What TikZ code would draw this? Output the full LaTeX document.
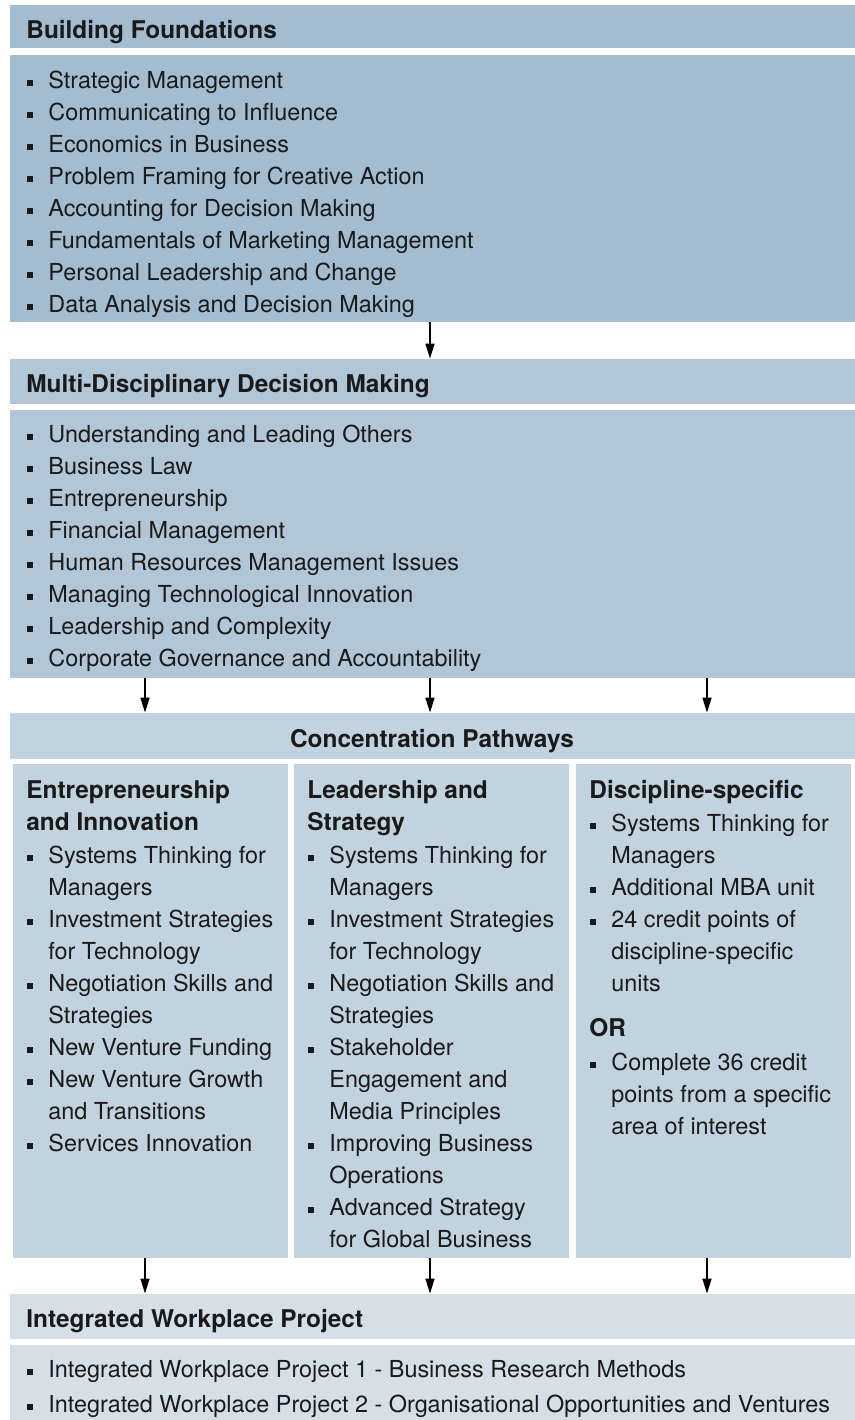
\documentclass[tikz,border=0pt]{standalone}
\usepackage{fontspec}
\setmainfont{TeX Gyre Heros}
\usetikzlibrary{fit,arrows.meta}
\definecolor{bfc}{HTML}{A3BCCF}
\definecolor{mdc}{HTML}{B1C6D6}
\definecolor{cpc}{HTML}{C2D3E0}
\definecolor{iwc}{HTML}{D4DFE8}
\definecolor{txt}{HTML}{1A1A1A}
\newcommand\bul{\llap{\rule[1pt]{3pt}{3pt}\hspace{7.5pt}}}
\tikzset{
  panel/.style={inner sep=0pt, draw=none},
  hd/.style={anchor=base west, inner sep=0pt, text=txt, font=\fontsize{12.2}{16}\selectfont\bfseries},
  it/.style={anchor=base west, inner sep=0pt, text=txt, font=\fontsize{11.7}{16}\selectfont},
  arr/.style={-{Triangle[width=4.5pt,length=7.5pt]}, line width=0.75pt, draw=black},
}
\begin{document}
\begin{tikzpicture}[x=0.5pt,y=-0.5pt]
\useasboundingbox (0,0) rectangle (855,1420);
% panels
\node[panel, fill=bfc, fit={(10,5) (855,48)}] (bfh) {};
\node[panel, fill=bfc, fit={(10,55) (855,322)}] (bfb) {};
\node[panel, fill=mdc, fit={(10,359) (855,404)}] (mdh) {};
\node[panel, fill=mdc, fit={(10,410) (855,678)}] (mdb) {};
\node[panel, fill=cpc, fit={(10,713) (855,759)}] (cph) {};
\node[panel, fill=cpc, fit={(13,764) (288,1258)}] (c1) {};
\node[panel, fill=cpc, fit={(294,764) (569,1258)}] (c2) {};
\node[panel, fill=cpc, fit={(576,764) (851,1258)}] (c3) {};
\node[panel, fill=iwc, fit={(10,1294) (855,1339)}] (iwh) {};
\node[panel, fill=iwc, fit={(10,1345) (855,1420)}] (iwb) {};
% headers
\node[hd] (bft) at (26,38) {Building Foundations};
\node[hd] (mdt) at (26,392) {Multi-Disciplinary Decision Making};
\node[hd, anchor=base] (cpt) at (432,747) {Concentration Pathways};
\node[hd] (iwt) at (26,1327) {Integrated Workplace Project};
% building foundations
\foreach \t [count=\i] in {Strategic Management, Communicating to Influence, Economics in Business, Problem Framing for Creative Action, Accounting for Decision Making, Fundamentals of Marketing Management, Personal Leadership and Change, Data Analysis and Decision Making}
  \node[it] (bf\i) at (48,{88+32*(\i-1)}) {\bul\t};
% multi-disciplinary
\foreach \t [count=\i] in {Understanding and Leading Others, Business Law, Entrepreneurship, Financial Management, Human Resources Management Issues, Managing Technological Innovation, Leadership and Complexity, Corporate Governance and Accountability}
  \node[it] (md\i) at (48,{442+32*(\i-1)}) {\bul\t};
% column 1
\node[hd] (c1h1) at (26,798) {Entrepreneurship};
\node[hd] (c1h2) at (26,830) {and Innovation};
\node[it] (c1a) at (48,863) {\bul Systems Thinking for};
\node[it] (c1b) at (48,895) {Managers};
\node[it] (c1c) at (48,927) {\bul Investment Strategies};
\node[it] (c1d) at (48,959) {for Technology};
\node[it] (c1e) at (48,991) {\bul Negotiation Skills and};
\node[it] (c1f) at (48,1023) {Strategies};
\node[it] (c1g) at (48,1055) {\bul New Venture Funding};
\node[it] (c1h) at (48,1087) {\bul New Venture Growth};
\node[it] (c1i) at (48,1119) {and Transitions};
\node[it] (c1j) at (48,1151) {\bul Services Innovation};
% column 2
\node[hd] (c2h1) at (307,798) {Leadership and};
\node[hd] (c2h2) at (307,830) {Strategy};
\node[it] (c2a) at (329,863) {\bul Systems Thinking for};
\node[it] (c2b) at (329,895) {Managers};
\node[it] (c2c) at (329,927) {\bul Investment Strategies};
\node[it] (c2d) at (329,959) {for Technology};
\node[it] (c2e) at (329,991) {\bul Negotiation Skills and};
\node[it] (c2f) at (329,1023) {Strategies};
\node[it] (c2g) at (329,1055) {\bul Stakeholder};
\node[it] (c2h) at (329,1087) {Engagement and};
\node[it] (c2i) at (329,1119) {Media Principles};
\node[it] (c2j) at (329,1151) {\bul Improving Business};
\node[it] (c2k) at (329,1183) {Operations};
\node[it] (c2l) at (329,1215) {\bul Advanced Strategy};
\node[it] (c2m) at (329,1247) {for Global Business};
% column 3
\node[hd] (c3h1) at (589,798) {Discipline-specific};
\node[it] (c3a) at (611,831) {\bul Systems Thinking for};
\node[it] (c3b) at (611,863) {Managers};
\node[it] (c3c) at (611,895) {\bul Additional MBA unit};
\node[it] (c3d) at (611,927) {\bul 24 credit points of};
\node[it] (c3e) at (611,959) {discipline-specific};
\node[it] (c3f) at (611,991) {units};
\node[hd] (c3or) at (589,1036) {OR};
\node[it] (c3g) at (611,1070) {\bul Complete 36 credit};
\node[it] (c3h) at (611,1102) {points from a specific};
\node[it] (c3i) at (611,1134) {area of interest};
% integrated workplace project
\node[it] (iw1) at (48,1377) {\bul Integrated Workplace Project 1 - Business Research Methods};
\node[it] (iw2) at (48,1412) {\bul Integrated Workplace Project 2 - Organisational Opportunities and Ventures};
% arrows
\coordinate (xa) at (145,0);
\coordinate (xb) at (430,0);
\coordinate (xc) at (707,0);
\draw[arr] (bfb.south -| xb) -- (mdh.north -| xb);
\draw[arr] (mdb.south -| xa) -- (cph.north -| xa);
\draw[arr] (mdb.south -| xb) -- (cph.north -| xb);
\draw[arr] (mdb.south -| xc) -- (cph.north -| xc);
\draw[arr] (c1.south -| xa) -- (iwh.north -| xa);
\draw[arr] (c2.south -| xb) -- (iwh.north -| xb);
\draw[arr] (c3.south -| xc) -- (iwh.north -| xc);
\end{tikzpicture}
\end{document}
